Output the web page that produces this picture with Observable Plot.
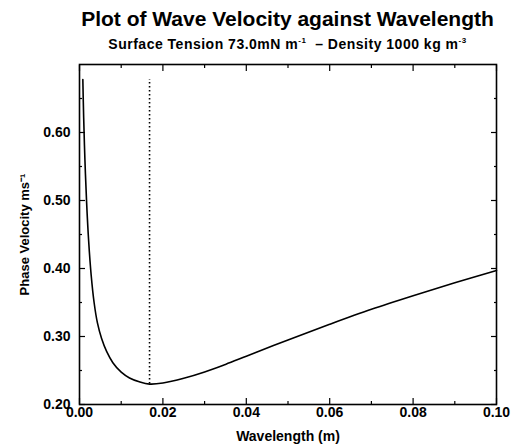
<!DOCTYPE html>
<html>
<head>
<meta charset="utf-8">
<script src="https://cdn.jsdelivr.net/npm/d3@7"></script>
<script src="https://cdn.jsdelivr.net/npm/@observablehq/plot@0.6"></script>
<style>
  body { margin: 0; background: #fff; font-family: "Liberation Sans", Arial, sans-serif; }
  #wrap { position: relative; width: 511px; height: 447px; }
  #title { position: absolute; left: 79px; width: 417px; top: 8px; text-align: center; font-size: 21px; line-height: 22px; font-weight: bold; color: #000; white-space: nowrap; }
  #subtitle { position: absolute; left: 79px; width: 417px; top: 37px; text-align: center; font-size: 14px; line-height: 14px; font-weight: bold; color: #000; letter-spacing: 0.5px; white-space: nowrap; }
  #subtitle sup { font-size: 8px; vertical-align: 6px; line-height: 0; }
  #chart { position: absolute; left: 0; top: 52px; }
</style>
</head>
<body>
<div id="wrap">
  <div id="title">Plot of Wave Velocity against Wavelength</div>
  <div id="subtitle">Surface Tension 73.0mN m<sup>-1</sup> &nbsp;– Density 1000 kg m<sup>-3</sup></div>
  <div id="chart"></div>
</div>
<script>
// Values
const wavelength = [0.0008, 0.0010, 0.0013, 0.0017, 0.0022, 0.0028, 0.0035, 0.0043, 0.0053, 0.0065, 0.0080, 0.0100, 0.0120, 0.0145, 0.0168, 0.020, 0.025, 0.030, 0.035, 0.040, 0.050, 0.060, 0.070, 0.080, 0.090, 0.100];
const velocity   = [0.678, 0.622, 0.560, 0.498, 0.440, 0.390, 0.350, 0.320, 0.297, 0.278, 0.2615, 0.2475, 0.239, 0.233, 0.230, 0.2315, 0.2385, 0.2478, 0.259, 0.271, 0.295, 0.318, 0.340, 0.360, 0.379, 0.397];
const minWavelength = 0.0168;
const minVelocity = 0.230;
const markerTop = 0.678;

const xMajor = [0, 0.02, 0.04, 0.06, 0.08, 0.10];
const xMinor = [0.01, 0.03, 0.05, 0.07, 0.09];
const yMajor = [0.2, 0.3, 0.4, 0.5, 0.6];
const yMinor = [0.25, 0.35, 0.45, 0.55, 0.65];

const data = wavelength.map((w, i) => ({w, v: velocity[i]}));
const blank = () => "";

const chart = Plot.plot({
  width: 511,
  height: 395,
  marginLeft: 79,
  marginRight: 15,
  marginTop: 12,
  marginBottom: 43,
  style: { fontFamily: "'Liberation Sans', Arial, sans-serif", fontSize: "14px", fontWeight: "bold", color: "#000", background: "#fff" },
  x: { domain: [0, 0.1] },
  y: { domain: [0.2, 0.7] },
  marks: [
    // text axes
    Plot.axisX({anchor: "bottom", ticks: xMajor, tickFormat: ".2f", tickSize: 0, tickPadding: 3, label: "Wavelength (m)", labelAnchor: "center", labelOffset: 36, labelArrow: "none", fontSize: 14}),
    Plot.axisY({anchor: "left", ticks: yMajor, tickFormat: ".2f", tickSize: 0, tickPadding: 9, label: null, fontSize: 14}),
    Plot.axisY({anchor: "left", ticks: [], label: "Phase Velocity ms⁻¹", labelAnchor: "center", labelOffset: 60, labelArrow: "none", fontSize: 13}),
    // inward ticks on all sides
    Plot.axisX({anchor: "bottom", ticks: xMajor, tickFormat: blank, tickSize: -6, label: null, strokeWidth: 1.2}),
    Plot.axisX({anchor: "bottom", ticks: xMinor, tickFormat: blank, tickSize: -3, label: null, strokeWidth: 1.2}),
    Plot.axisX({anchor: "top", ticks: xMajor, tickFormat: blank, tickSize: -6, label: null, strokeWidth: 1.2}),
    Plot.axisX({anchor: "top", ticks: xMinor, tickFormat: blank, tickSize: -3, label: null, strokeWidth: 1.2}),
    Plot.axisY({anchor: "left", ticks: yMajor, tickFormat: blank, tickSize: -6, label: null, strokeWidth: 1.2}),
    Plot.axisY({anchor: "left", ticks: yMinor, tickFormat: blank, tickSize: -3, label: null, strokeWidth: 1.2}),
    Plot.axisY({anchor: "right", ticks: yMajor, tickFormat: blank, tickSize: -6, label: null, strokeWidth: 1.2}),
    Plot.axisY({anchor: "right", ticks: yMinor, tickFormat: blank, tickSize: -3, label: null, strokeWidth: 1.2}),
    Plot.frame({stroke: "#000", strokeWidth: 1.6}),
    Plot.ruleX([minWavelength], {y1: minVelocity, y2: markerTop, stroke: "#000", strokeWidth: 1.6, strokeDasharray: "1.5,2.5"}),
    Plot.line(data, {x: "w", y: "v", curve: "catmull-rom", stroke: "#000", strokeWidth: 1.6})
  ]
});
document.getElementById("chart").appendChild(chart);
</script>
</body>
</html>
